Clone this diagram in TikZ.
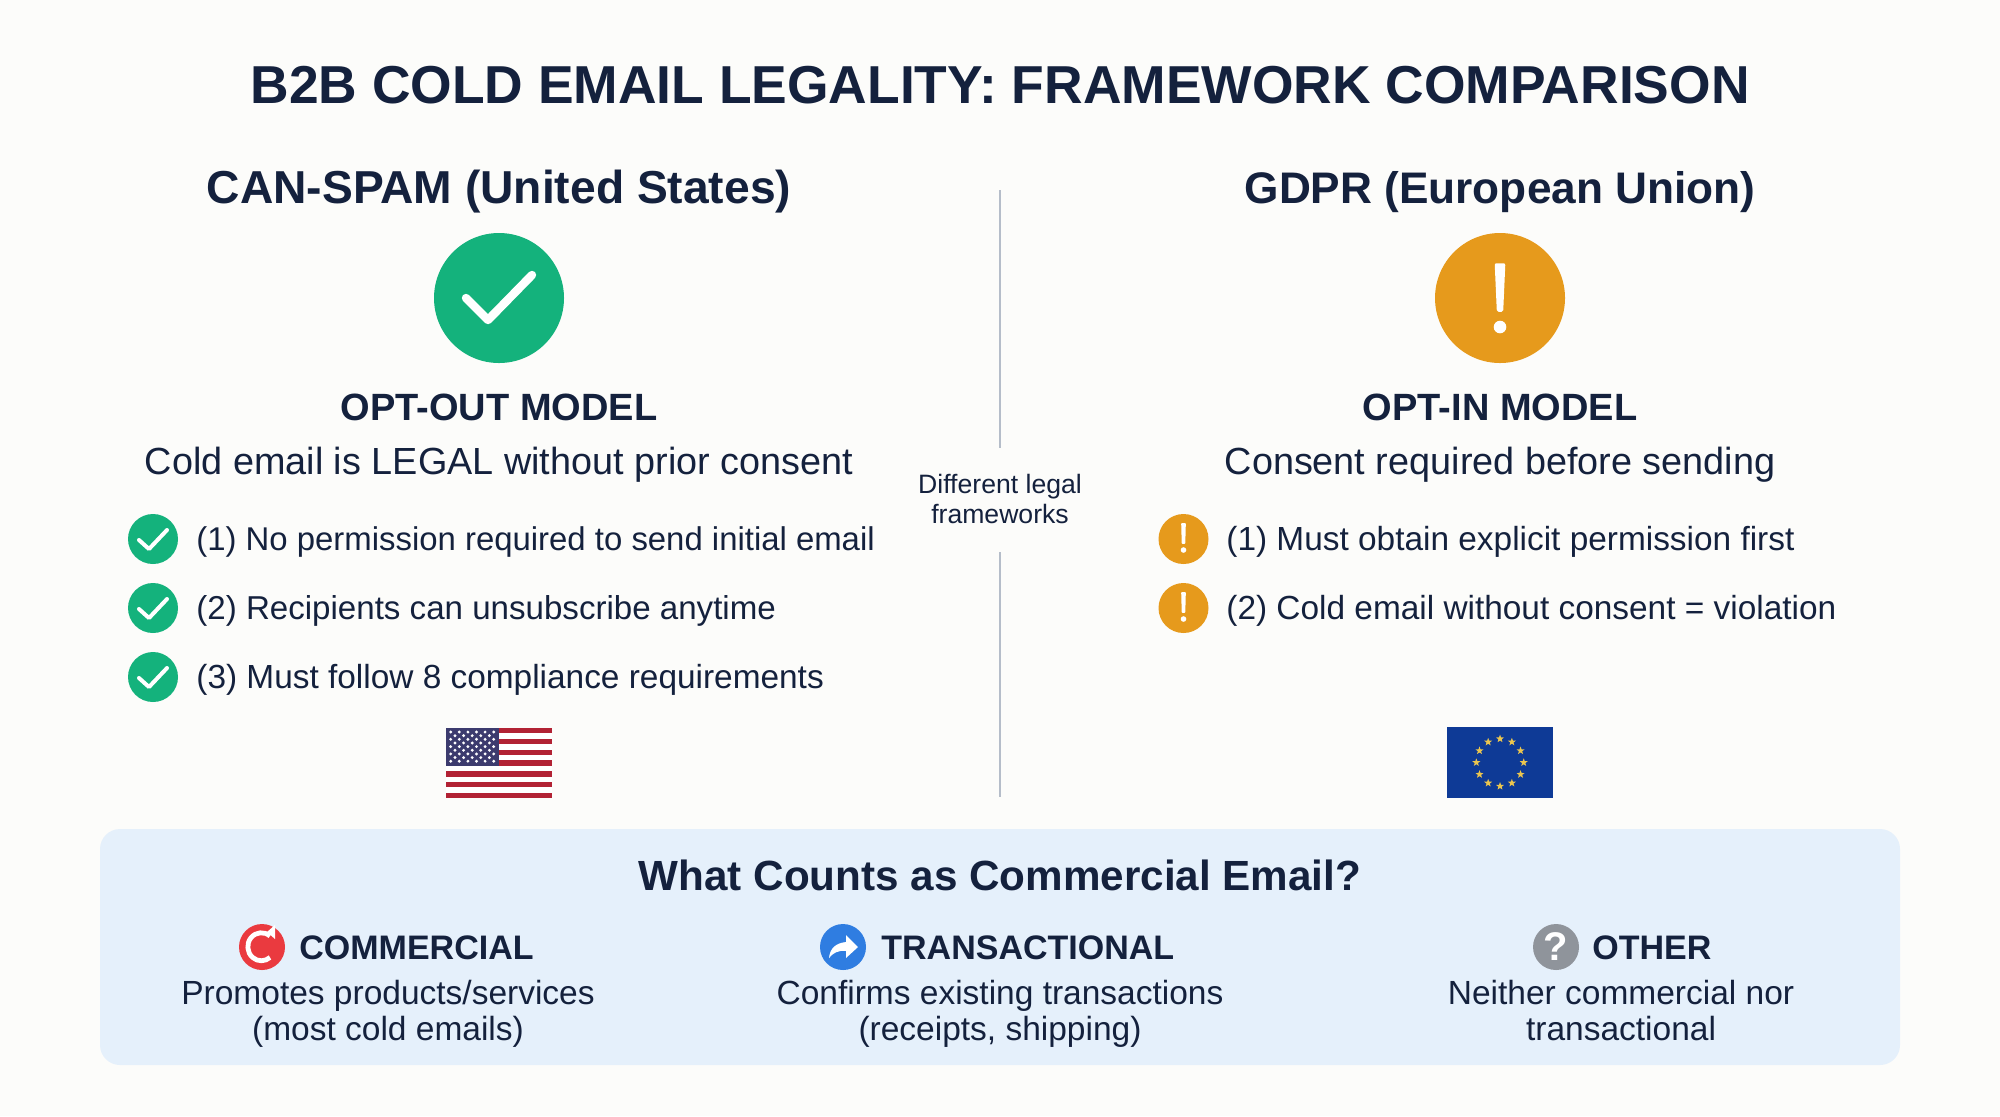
\documentclass[tikz,border=0pt]{standalone}
\usepackage{fontspec}
\usetikzlibrary{shapes.geometric,calc}
\setmainfont{Liberation Sans}
\definecolor{ink}{HTML}{14213D}
\definecolor{pagebg}{HTML}{FCFCFA}
\definecolor{okgreen}{HTML}{14B27C}
\definecolor{warn}{HTML}{E69A1C}
\definecolor{panel}{HTML}{E5F0FB}
\definecolor{rulec}{HTML}{B5BDC9}
\definecolor{usred}{HTML}{B22234}
\definecolor{usblue}{HTML}{3C3B6E}
\definecolor{eublue}{HTML}{0E3A96}
\definecolor{eustar}{HTML}{EAC54F}
\definecolor{redi}{HTML}{EA3A3F}
\definecolor{bluei}{HTML}{2F7DE1}
\definecolor{greyi}{HTML}{8F949B}
\tikzset{
  x=0.5pt,y=-0.5pt,
  txt/.style={text=ink,inner sep=0pt,align=center},
  titlet/.style={txt,font=\fontsize{26.7}{30}\selectfont\bfseries},
  heading/.style={txt,font=\fontsize{#1}{26}\selectfont\bfseries},
  model/.style={txt,font=\fontsize{19}{22}\selectfont\bfseries},
  sub/.style={txt,font=\fontsize{18.9}{22}\selectfont},
  item/.style={txt,anchor=west,font=\fontsize{#1}{20}\selectfont},
  side/.style={txt,font=\fontsize{13.3}{15}\selectfont},
  kind/.style={txt,anchor=west,font=\fontsize{17}{20}\selectfont\bfseries},
  descr/.style={txt,font=\fontsize{16.75}{17.9}\selectfont},
  disc/.style={circle,inner sep=0pt,minimum size=#1},
  white stroke/.style={draw=white,line cap=round,line join=round,line width=#1},
  bang/.style={fill=white,draw=white,line join=round,line width=#1},
}
\begin{document}
\begin{tikzpicture}
\useasboundingbox (0,0) rectangle (2000,1116);
\fill[pagebg] (0,0) rectangle (2000,1116);
\node[titlet] (title) at (1000,85) {B2B COLD EMAIL LEGALITY: FRAMEWORK COMPARISON};
\node[heading=23.1] (h1) at (499,192) {CAN-SPAM (United States)};
\node[heading=22.1] (h2) at (1500,192) {GDPR (European Union)};
% big icons
\node[disc=65pt,fill=okgreen] (b1) at (499,298) {};
\draw[white stroke=4.2pt] (466,298) -- (488,320) -- (532,275);
\node[disc=65pt,fill=warn] (b2) at (1500,298) {};
\path[bang=1.75pt] (1496.5,265) -- (1503.5,265) -- (1501.5,310) -- (1498.5,310) -- cycle;
\fill[white] (1500,327) circle (6.3);
\node[model] (m1) at (499,407) {OPT-OUT MODEL};
\node[model] (m2) at (1500,407) {OPT-IN MODEL};
\node[sub] (s1) at (499,465) {Cold email is LEGAL without prior consent};
\node[sub] (s2) at (1500,465) {Consent required before sending};
% lists
\foreach \n/\y/\s/\t in {1/539/16.45/(1) No permission required to send initial email,2/608/16.55/(2) Recipients can unsubscribe anytime,3/677/16.7/(3) Must follow 8 compliance requirements}{
  \node[disc=25pt,fill=okgreen] (c\n) at (153,\y) {};
  \draw[white stroke=2pt] (139,\y+1) -- (149,\y+10) -- (167,\y-9);
  \node[item=\s] (t\n) at (196,\y+3) {\t};
}
\foreach \n/\y/\t in {1/539/(1) Must obtain explicit permission first,2/608/(2) Cold email without consent = violation}{
  \node[disc=25pt,fill=warn] (w\n) at (1183.5,\y) {};
  \path[bang=0.8pt] (1182,\y-15) -- (1185,\y-15) -- (1184.5,\y+4) -- (1182.5,\y+4) -- cycle;
  \fill[white] (1183.5,\y+11) circle (2.8);
  \node[item=16.7] (r\n) at (1226,\y+3) {\t};
}
% divider
\coordinate (d1) at (1000,190);
\coordinate (d2) at (1000,448);
\coordinate (d3) at (1000,552);
\coordinate (d4) at (1000,797);
\draw[rulec,line width=1.4pt] (d1) -- (d2);
\draw[rulec,line width=1.4pt] (d3) -- (d4);
\node[side] (dl) at (1000,502.5) {\strut Different legal\\\strut frameworks};
% US flag
\fill[white] (446,728) rectangle (552,798);
\foreach \i in {0,...,6}{
  \fill[usred] (446,728+\i*10.77) rectangle (552,728+\i*10.77+5.4);
}
\fill[usblue] (446,728) rectangle (498.5,765.5);
\foreach \r in {0,2,4,6,8}{
  \foreach \c in {0,...,5}{
    \fill[white] (450.7+\c*8.6,732+\r*3.65) circle (1.6);
  }
}
\foreach \r in {1,3,5,7}{
  \foreach \c in {0,...,4}{
    \fill[white] (455+\c*8.6,732+\r*3.65) circle (1.6);
  }
}
% EU flag
\fill[eublue] (1447,727) rectangle (1553,798);
\foreach \a in {0,30,...,330}{
  \node[star,star points=5,star point ratio=2.4,fill=eustar,inner sep=0pt,minimum size=4.2pt] (es\a) at ($(1500,762.5)+(\a:23.7)$) {};
}
% panel
\fill[panel,rounded corners=10pt] (100,829) rectangle (1900,1065);
\node[txt,font=\fontsize{21.1}{26}\selectfont\bfseries] (pt) at (1000,875) {What Counts as Commercial Email?};
% commercial
\node[disc=23pt,fill=redi] (i1) at (262,947) {};
\draw[white stroke=2.4pt,line cap=butt] (270,936) arc (-50:-310:13.5 and 14);
\fill[white] (267,932) -- (275,925) -- (275,939) -- cycle;
\node[kind] (k1) at (299,948) {COMMERCIAL};
% transactional
\node[disc=23pt,fill=bluei] (i2) at (843,947) {};
\fill[white] (846,935) -- (858,947) -- (846,958) -- (846,951) .. controls (838,950) and (833,953) .. (829,958) .. controls (830,948) and (836,943) .. (846,942) -- cycle;
\node[kind] (k2) at (881,948) {TRANSACTIONAL};
% other
\node[disc=23pt,fill=greyi] (i3) at (1556,947) {};
\node[text=white,inner sep=0pt,font=\fontsize{20}{20}\selectfont\bfseries] (q) at (1556,947) {?};
\node[kind] (k3) at (1592,948) {OTHER};
% descriptions
\node[descr] (d1t) at (388,1015.5) {\strut Promotes products/services\\\strut (most cold emails)};
\node[descr] (d2t) at (1000,1015.5) {\strut Confirms existing transactions\\\strut (receipts, shipping)};
\node[descr] (d3t) at (1621,1015.5) {\strut Neither commercial nor\\\strut transactional};
\end{tikzpicture}
\end{document}
